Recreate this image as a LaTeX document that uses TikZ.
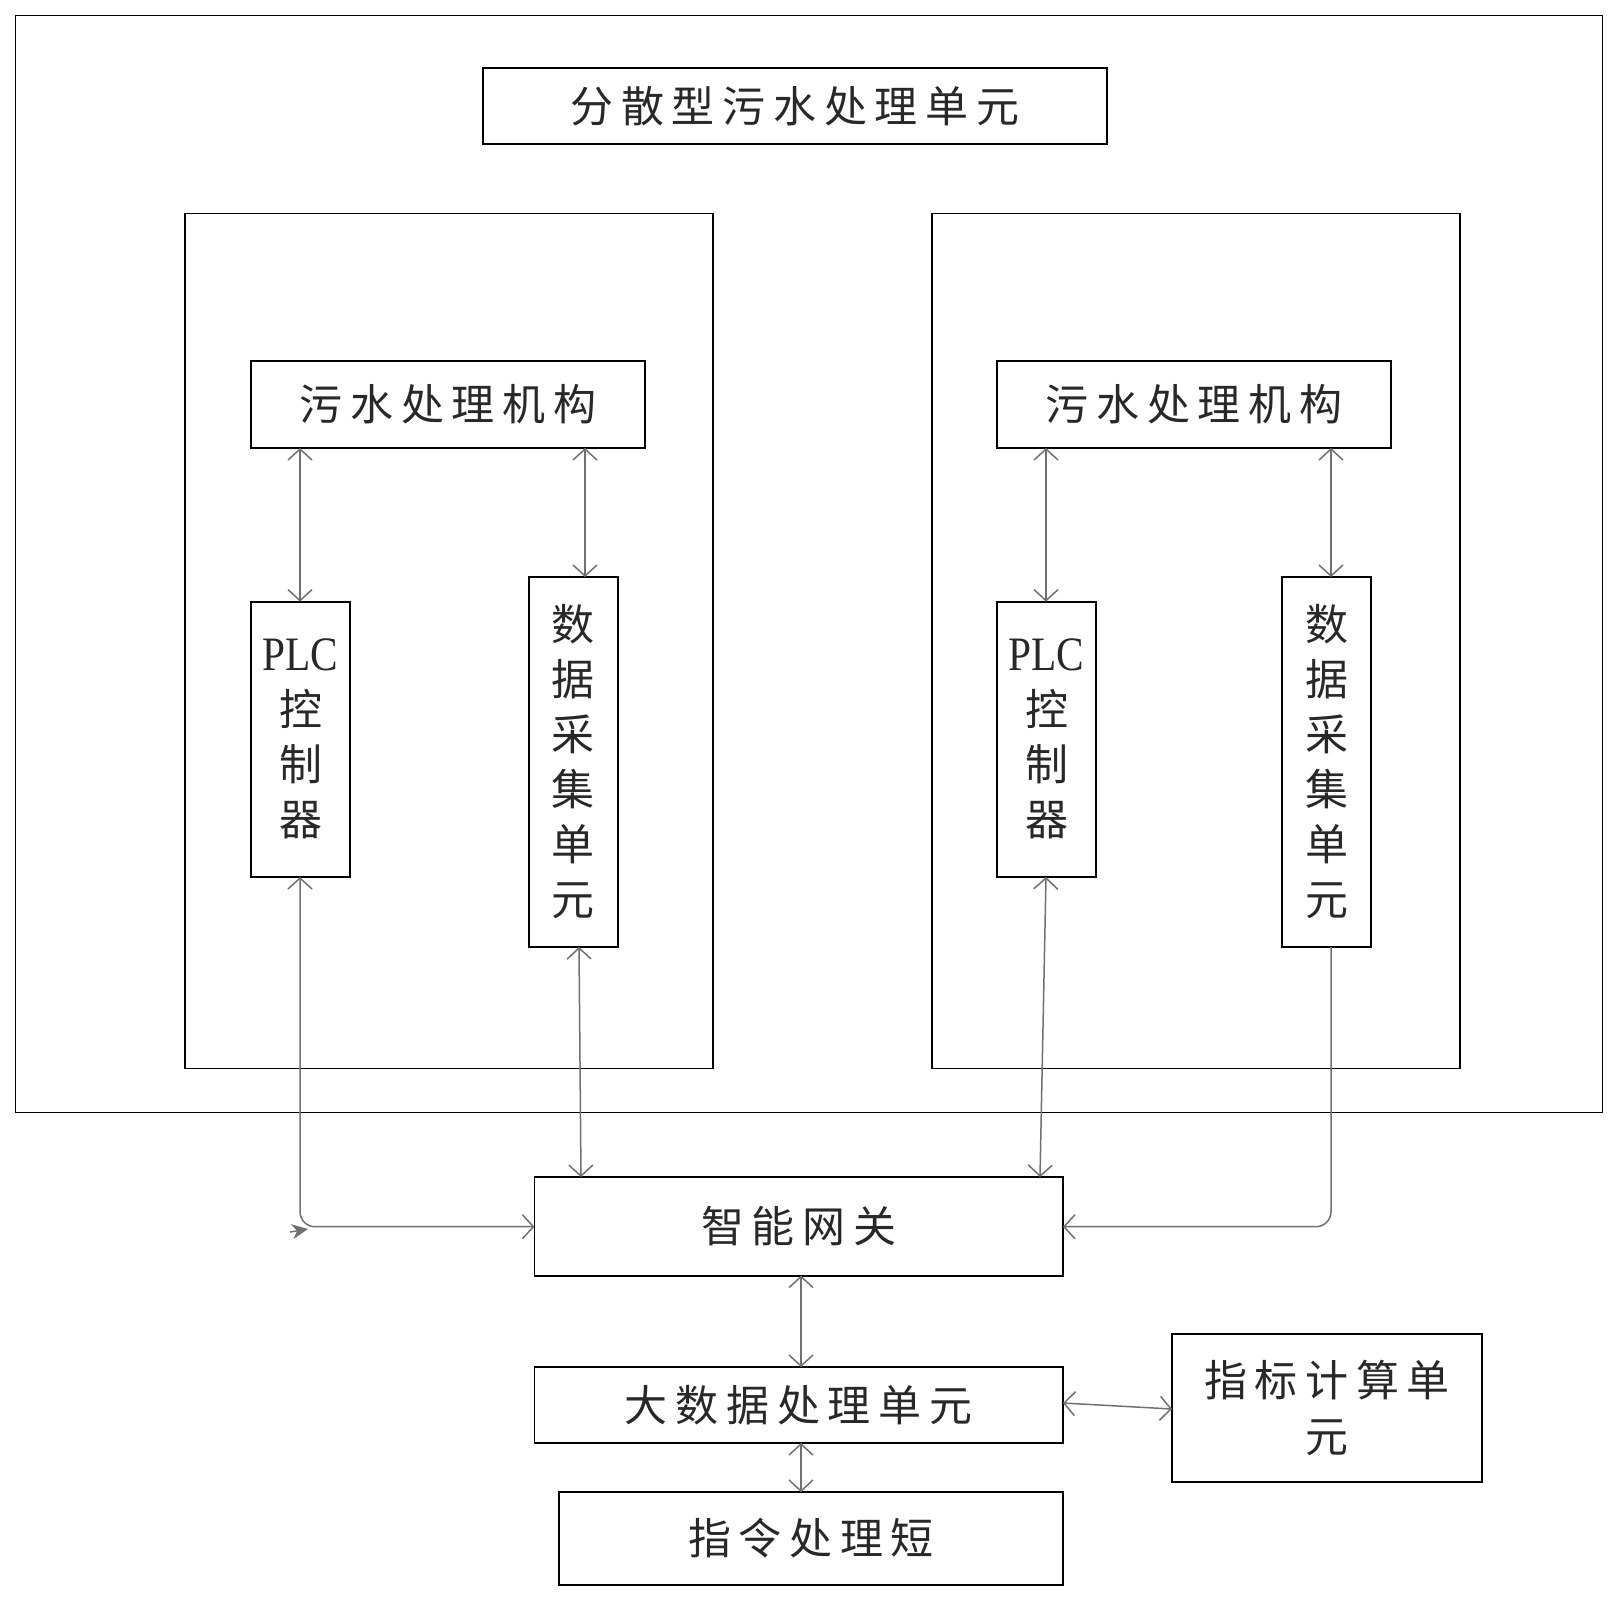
\documentclass[tikz,border=0pt]{standalone}
\usepackage{graphicx}
\usepackage{fontspec}
\setmainfont{Liberation Serif}
\newfontfamily\cjk[LetterSpace=18]{Noto Sans CJK SC}
\newfontfamily\cjkv{Noto Sans CJK SC}
\usetikzlibrary{arrows.meta}
\definecolor{connc}{RGB}{112,112,112}
\definecolor{txtc}{RGB}{40,40,40}
\newcommand\plc{{\fontspec{Liberation Serif}\fontsize{48}{55}\selectfont\scalebox{0.86}[1]{PLC}}}
\tikzset{
  box/.style={draw=black, line width=1.9pt, rectangle, inner sep=0pt, outer sep=0pt, text=txtc},
  htext/.style={font=\cjk\fontsize{43}{55}\selectfont},
  vtext/.style={font=\cjkv\fontsize{43}{55}\selectfont, align=center},
  conn/.style={draw=connc, line width=1.5pt},
  both/.style={conn, {Straight Barb[length=11pt,width=24pt]}-{Straight Barb[length=11pt,width=24pt]}},
  endonly/.style={conn, -{Straight Barb[length=11pt,width=24pt]}},
}
\begin{document}
\begin{tikzpicture}[x=1pt,y=-1pt]
\useasboundingbox (0,0) rectangle (1618,1601);
% containers
\node[box, minimum width=1587pt, minimum height=1097pt] (outer) at (809,564) {};
\node[box, htext, minimum width=624pt, minimum height=76.5pt] (title) at (795,106) {分散型污水处理单元};
\node[box, minimum width=528pt, minimum height=855pt] (linner) at (449,641) {};
\node[box, minimum width=528pt, minimum height=855pt] (rinner) at (1196,641) {};
% left unit
\node[box, htext, minimum width=394pt, minimum height=87pt] (lmech) at (448,404.5) {污水处理机构};
\node[box, vtext, minimum width=99pt, minimum height=275.4pt] (lplc) at (300.5,739.3) {\plc\\控\\制\\器};
\node[box, vtext, minimum width=88.5pt, minimum height=370pt] (ldata) at (573.3,762) {数\\据\\采\\集\\单\\元};
% right unit
\node[box, htext, minimum width=394pt, minimum height=87pt] (rmech) at (1194,404.5) {污水处理机构};
\node[box, vtext, minimum width=99pt, minimum height=275.4pt] (rplc) at (1046.5,739.3) {\plc\\控\\制\\器};
\node[box, vtext, minimum width=89pt, minimum height=370pt] (rdata) at (1326.5,762) {数\\据\\采\\集\\单\\元};
% lower chain
\node[box, htext, minimum width=528.5pt, minimum height=98.5pt] (gw) at (798.7,1226.3) {智能网关};
\node[box, vtext, minimum width=310pt, minimum height=148pt, font=\cjk\fontsize{43}{56}\selectfont] (idx) at (1327,1408) {指标计算单\\元};
\node[box, htext, minimum width=528.5pt, minimum height=76pt] (big) at (798.7,1405) {大数据处理单元};
\node[box, htext, minimum width=504pt, minimum height=93pt] (cmd) at (811,1538.5) {指令处理短};
% helper coordinates
\coordinate (xl1) at (300,0);
\coordinate (xl2) at (585,0);
\coordinate (xr1) at (1046,0);
\coordinate (xr2) at (1331,0);
\coordinate (xd1) at (579,0);
\coordinate (xd2) at (581,0);
\coordinate (xp1) at (1046,0);
\coordinate (xp2) at (1040,0);
\coordinate (xm) at (801,0);
\coordinate (yb) at (0,1226.7);
\coordinate (yi1) at (0,1403);
\coordinate (yi2) at (0,1409);
\coordinate (strayA) at (290,1232);
\coordinate (strayB) at (308,1229);
% connectors inside units
\draw[both] (lmech.south -| xl1) -- (lplc.north -| xl1);
\draw[both] (lmech.south -| xl2) -- (ldata.north -| xl2);
\draw[both] (rmech.south -| xr1) -- (rplc.north -| xr1);
\draw[both] (rmech.south -| xr2) -- (rdata.north -| xr2);
% to gateway
\draw[both, rounded corners=15pt] (lplc.south -| xl1) -- (yb -| xl1) -- (gw.west |- yb);
\draw[both] (ldata.south -| xd1) -- (gw.north -| xd2);
\draw[both] (rplc.south -| xp1) -- (gw.north -| xp2);
\draw[endonly, rounded corners=15pt] (rdata.south -| xr2) -- (yb -| xr2) -- (gw.east |- yb);
% stray arrowhead
\draw[conn, -{Stealth[length=16pt,width=15pt,inset=5pt]}] (strayA) -- (strayB);
% lower chain
\draw[both] (gw.south -| xm) -- (big.north -| xm);
\draw[both] (big.south -| xm) -- (cmd.north -| xm);
\draw[both] (big.east |- yi1) -- (idx.west |- yi2);
\end{tikzpicture}
\end{document}
